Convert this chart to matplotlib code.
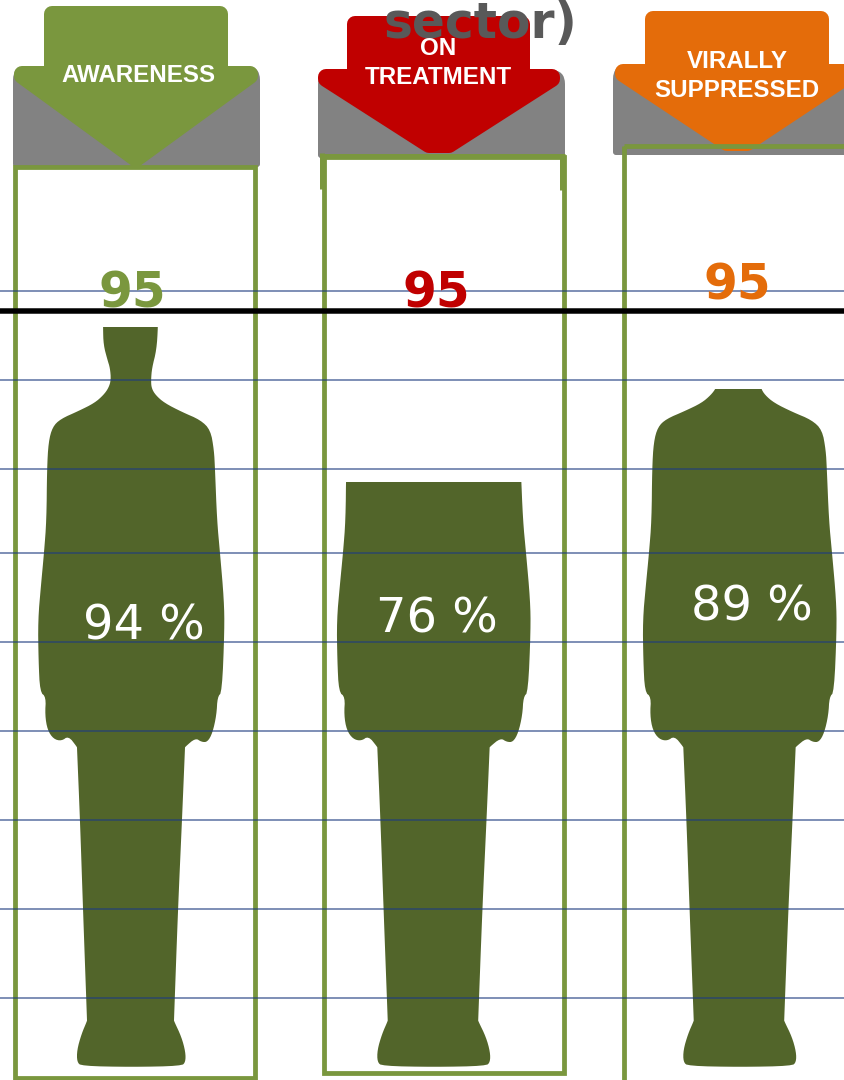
"""
Pictogram chart of the 95-95-95 cascade, filled silhouettes per stage.
"""

import matplotlib
matplotlib.use("Agg")
import matplotlib.pyplot as plt
from matplotlib.patches import FancyBboxPatch, Polygon, Rectangle

W, H = 844, 1080
PT = 0.72  # one pixel in points at dpi 100

# Data
stages = ["AWARENESS", "ON\nTREATMENT", "VIRALLY\nSUPPRESSED"]
achieved = [94, 76, 89]
targets = [95, 95, 95]
value_labels = ["94 %", "76 %", "89 %"]
grid_levels = [291, 380, 469, 553, 642, 731, 820, 909, 998]
target_level = 310.7
title_tail = "sector)"

# Style
GREEN = "#7a973e"
DARK = "#52652a"
GRAY = "#828282"
stage_colors = [GREEN, "#c00000", "#e46c0a"]
centers = [131.5, 434, 740]
x_scale = [1.0, 1.04, 1.04]
px_per_pct = [7.87, 7.70, 7.62]
base_y = 1067

# silhouette outline, one side after the other, relative to the body centre
figure_left = [
    (-28.5, 300), (-28.5, 327), (-28, 345), (-24, 360), (-21.5, 368), (-20.5, 380), (-23, 388),
    (-28, 395), (-37, 403), (-53, 411), (-71, 419), (-79, 427), (-83, 442), (-84.5, 469),
    (-85, 520), (-87.5, 553), (-90.5, 585), (-93.5, 620), (-93, 660), (-91.5, 692), (-85.5, 697),
    (-86.5, 715), (-84, 730), (-78, 739), (-70, 741), (-63, 736), (-54.5, 747), (-54.5, 748),
    (-51.5, 820), (-48.5, 909), (-44.5, 1020), (-44.5, 1021), (-50, 1034), (-54.5, 1050),
    (-54.5, 1062), (-50, 1066), (0, 1067),
]
figure_right = [
    (50, 1066), (54, 1062), (54, 1052), (50, 1037), (42.5, 1021), (42.5, 1020), (46.5, 909),
    (50.5, 820), (53.5, 748), (53.5, 747), (64, 738), (70, 742), (76, 742), (81, 733), (85, 715),
    (86, 697), (90.5, 692), (93, 630), (92.5, 600), (88.5, 553), (85.5, 520), (83.5, 469),
    (82.5, 450), (79, 430), (69, 420), (50.5, 412), (33, 403), (24, 395), (20, 388), (19.5, 380),
    (20.5, 368), (25, 350), (26.5, 327), (26.5, 300),
]

# gray box x0, y0, x1, y1 behind each arrow
boxes = [(13, 66, 260, 167), (318, 70, 565, 158), (613, 65, 880, 155)]
# arrow shapes: stem x0, stem x1, top, head y, head x0, head x1, tip x, tip y
arrows = [
    (44, 228, 6, 66, 14, 258, 136, 167),
    (347, 530, 16, 69, 318, 560, 439, 153),
    (645, 829, 11, 64, 615, 859, 737, 151),
]
tip_half = [0, 10, 10]
# frames x0, y0, x1, y1
frames = [(15.3, 167, 255, 1078), (324, 157, 563.5, 1073), (623.5, 146, 880, 1100)]
target_text_xy = [(132, 293), (436, 293), (737, 286)]
value_text_xy = [(143.5, 626), (437, 619), (751.5, 607)]
stage_text_xy = [(138, 76), (438, 63), (737, 76)]


def smooth(points, rounds=2):
    # corner cutting, so the outline is not made of visible straight pieces
    for _ in range(rounds):
        out = []
        for (x0, y0), (x1, y1) in zip(points, points[1:] + points[:1]):
            out.append((0.75 * x0 + 0.25 * x1, 0.75 * y0 + 0.25 * y1))
            out.append((0.25 * x0 + 0.75 * x1, 0.25 * y0 + 0.75 * y1))
        points = out
    return points


fig = plt.figure(figsize=(W / 100, H / 100), dpi=100)
ax = fig.add_axes([0, 0, 1, 1])
ax.set_xlim(0, W)
ax.set_ylim(H, 0)
ax.axis("off")

for i in range(3):
    # gray envelope, only the upper corners are round
    x0, y0, x1, y1 = boxes[i]
    ax.add_patch(FancyBboxPatch((x0 + 4, y0 + 4), x1 - x0 - 8, 40,
                                boxstyle="round,pad=4,rounding_size=14",
                                fc=GRAY, ec="none", zorder=1))
    ax.add_patch(FancyBboxPatch((x0 + 2, y0 + 30), x1 - x0 - 4, y1 - y0 - 32,
                                boxstyle="round,pad=2,rounding_size=3",
                                fc=GRAY, ec="none", zorder=1))

    # arrow, corners rounded with a thick stroke of the same colour
    sx0, sx1, top, head, hx0, hx1, tx, ty = arrows[i]
    r = 8
    hw = tip_half[i]
    shape = [(sx0 + r, top + r), (sx1 - r, top + r), (sx1 - r, head + r), (hx1 - r, head + r),
             (hx1 - r, head + r + 2), (tx + hw, ty - r), (tx - hw, ty - r),
             (hx0 + r, head + r + 2), (hx0 + r, head + r), (sx0 + r, head + r)]
    ax.add_patch(Polygon(shape, closed=True, fc=stage_colors[i], ec=stage_colors[i],
                         lw=2 * r * PT, joinstyle="round", zorder=2))

    # silhouette filled up to the achieved share
    sc = x_scale[i]
    pts = smooth([(centers[i] + sc * x, y) for x, y in figure_left + figure_right])
    body = Polygon(pts, closed=True, fc=DARK, ec="none", zorder=3)
    ax.add_patch(body)
    level = base_y - achieved[i] * px_per_pct[i]
    clip = Rectangle((0, level), W, H - level, transform=ax.transData)
    body.set_clip_path(clip)

    # frame
    fx0, fy0, fx1, fy1 = frames[i]
    ax.add_patch(Rectangle((fx0, fy0), fx1 - fx0, fy1 - fy0, fc="none", ec=GREEN,
                           lw=4.8 * PT, joinstyle="miter", zorder=4))

    ax.text(stage_text_xy[i][0], stage_text_xy[i][1], stages[i], color="white", ha="center",
            va="center", family="Liberation Sans", fontweight="bold", fontsize=17.4,
            linespacing=1.33, zorder=7)
    ax.text(value_text_xy[i][0], value_text_xy[i][1], value_labels[i], color="white", ha="center",
            va="center", fontsize=34.5, zorder=7)
    ax.text(target_text_xy[i][0], target_text_xy[i][1], str(targets[i]), color=stage_colors[i],
            ha="center", va="center", fontweight="bold", fontsize=35, zorder=7)

# the doubled frame edges on the middle panel
ax.plot([322, 322], [153, 189], color=GREEN, lw=5 * PT, solid_capstyle="butt", zorder=4)
ax.plot([562, 562], [158, 190], color=GREEN, lw=5 * PT, solid_capstyle="butt", zorder=4)
ax.plot([320, 565], [155.5, 155.5], color=GREEN, lw=5 * PT, solid_capstyle="butt", zorder=4)

ax.hlines(grid_levels, 0, W, color="#1e3c80", lw=1.5 * PT, alpha=0.75, zorder=5)
ax.hlines(target_level, 0, W, color="black", lw=5.5 * PT, zorder=6)

ax.text(480, 24, title_tail, color="#595959", ha="center", va="center", fontweight="bold",
        fontsize=35, zorder=6)

fig.savefig("out.png", dpi=100)
